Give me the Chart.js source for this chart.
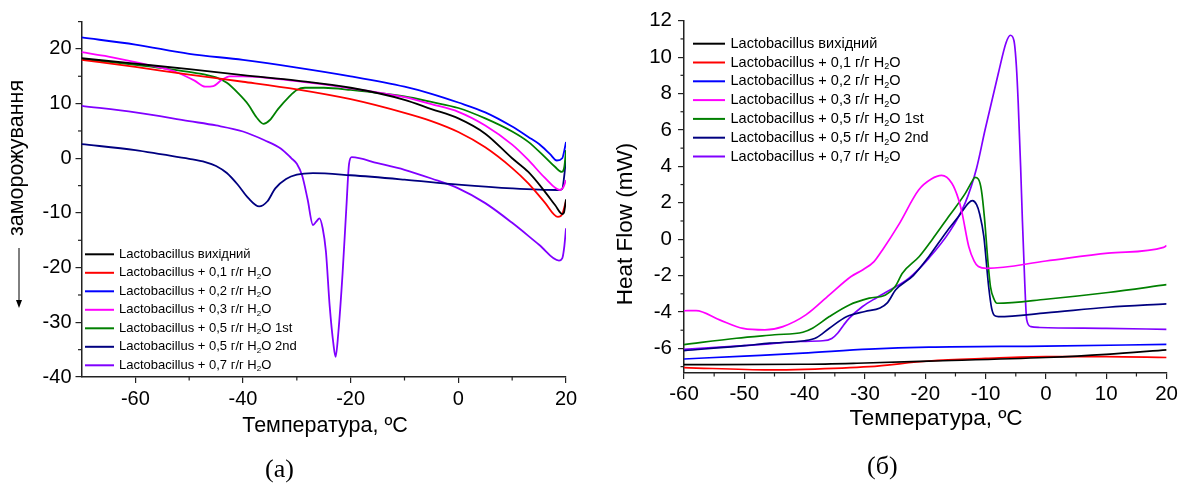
<!DOCTYPE html>
<html>
<head>
<meta charset="utf-8">
<script src="https://cdn.jsdelivr.net/npm/chart.js@4.4.0/dist/chart.umd.min.js"></script>
<style>
  html, body { margin: 0; background: #fff; }
  #wrap { position: relative; width: 1181px; height: 491px; overflow: hidden; }
  .panel { position: absolute; top: 0; }
  .cap { position: absolute; font-family: "Liberation Serif", "Times New Roman", serif; font-size: 26px; color: #000; }
</style>
</head>
<body>
<div id="wrap">
  <div class="panel" style="left:0"><canvas id="chartA" width="590" height="491"></canvas></div>
  <div class="panel" style="left:590px"><canvas id="chartB" width="591" height="491"></canvas></div>
  <div class="cap" style="left:265px;top:454px">(a)</div>
  <div class="cap" style="left:867px;top:451px">(б)</div>
</div>
<script>
// sample names and line colours (shared by both panels)
const seriesNames = [
  'Lactobacillus вихідний',
  'Lactobacillus + 0,1 г/г H₂O',
  'Lactobacillus + 0,2 г/г H₂O',
  'Lactobacillus + 0,3 г/г H₂O',
  'Lactobacillus + 0,5 г/г H₂O 1st',
  'Lactobacillus + 0,5 г/г H₂O 2nd',
  'Lactobacillus + 0,7 г/г H₂O'
];
const seriesColors = ['#000000', '#ff0000', '#0000ff', '#ff00ff', '#008000', '#000080', '#8000ff'];

// (a) cooling curves: [temperature, signal]
const coolBase = [[-70,18.3],[-60,17.3],[-50,16.3],[-40,15.2],[-30,14.2],[-20,12.9],[-10,10.7],[-5,9.0],[0,7.3],[5,4.5],[10,0.0],[13,-2.5],[16,-6.0],[18,-8.6],[19.3,-10.2],[19.6,-10.0],[20,-7.5]];
const cool01 = [[-70,18.0],[-60,16.7],[-50,15.3],[-40,14.0],[-30,12.6],[-20,10.8],[-10,8.3],[-5,6.8],[0,4.8],[5,2.0],[10,-1.8],[13,-4.6],[16,-8.0],[18.5,-10.7],[19.3,-10.2],[20,-7.8]];
const cool02 = [[-70,22.1],[-60,20.8],[-50,19.1],[-40,18.0],[-30,16.6],[-20,15.0],[-10,13.1],[-5,11.8],[0,10.2],[5,8.4],[10,5.8],[13,3.9],[15,2.6],[17,0.8],[18.3,-0.4],[19.3,0.0],[19.7,1.5],[20,3.0]];
const cool03 = [[-70,19.4],[-65,18.6],[-60,17.6],[-55,16.5],[-52,15.6],[-49,14.2],[-47,13.1],[-45.5,13.2],[-44,14.3],[-42.5,15.0],[-40,15.0],[-30,14.1],[-20,12.8],[-10,11.2],[-5,9.9],[0,8.5],[5,6.0],[10,2.5],[13,-0.3],[16,-3.5],[18.9,-5.8],[19.5,-5.3],[20,-4.0]];
const cool05a = [[-70,18.2],[-60,17.1],[-55,16.5],[-50,15.8],[-47,15.3],[-45,14.8],[-43,13.8],[-41,12.0],[-39,9.8],[-37.5,7.5],[-36.2,6.3],[-35,7.0],[-33.5,9.0],[-31.5,11.2],[-30,12.5],[-28.5,12.9],[-25,12.9],[-20,12.5],[-10,11.3],[-5,10.3],[0,9.2],[5,7.3],[10,4.9],[13,3.0],[16,0.3],[18,-1.6],[19.2,-2.5],[19.7,-1.5],[20,1.5]];
const cool05b = [[-70,2.6],[-60,1.5],[-55,0.7],[-50,-0.1],[-47,-0.7],[-45,-1.4],[-43,-2.7],[-41,-4.8],[-39,-7.3],[-37,-8.8],[-35.5,-7.9],[-34,-5.5],[-32,-3.8],[-30,-3.0],[-27,-2.7],[-20,-3.1],[-10,-3.9],[0,-4.8],[10,-5.5],[18.5,-5.8],[19.3,-5.6],[19.7,-3.0],[20,0.0]];
const cool07 = [[-70,9.6],[-60,8.4],[-50,6.8],[-45,6.0],[-40,4.9],[-36,3.3],[-33,1.8],[-31,0.0],[-30,-1.0],[-29,-3.2],[-28,-7.5],[-27,-12.2],[-26.4,-11.6],[-25.8,-11.0],[-25.2,-12.8],[-24.6,-17.0],[-23.9,-27.0],[-23.2,-34.0],[-22.8,-36.3],[-22.3,-32.0],[-21.5,-21.0],[-20.8,-9.0],[-20.3,-1.0],[-19.8,0.2],[-15,-0.9],[-10,-2.1],[-5,-3.7],[0,-5.5],[5,-8.2],[10,-11.8],[15,-15.8],[18.7,-18.7],[19.3,-18.3],[19.7,-16.0],[20,-12.8]];

// (б) DSC heat flow, mW: [temperature, heat flow]
const heatBase = [[-60,-6.89],[-40,-6.87],[-30,-6.8],[-19.4,-6.7],[0,-6.5],[10,-6.33],[20,-6.08]];
const heat01 = [[-60,-7.05],[-45.8,-7.18],[-40,-7.15],[-29.3,-7.0],[-19.4,-6.69],[-10,-6.55],[0,-6.45],[10,-6.45],[20,-6.5]];
const heat02 = [[-60,-6.58],[-50,-6.42],[-40.3,-6.26],[-29.3,-6.04],[-19.4,-5.93],[0,-5.87],[20,-5.78]];
const heat03 = [[-60,-3.93],[-58,-3.92],[-54.1,-4.43],[-50.2,-4.9],[-46.6,-4.98],[-43.6,-4.8],[-39.8,-4.16],[-35.9,-3.06],[-32.3,-2.05],[-30.4,-1.69],[-28.5,-1.23],[-27.1,-0.59],[-24.4,0.8],[-21.1,2.7],[-19,3.3],[-17.3,3.5],[-15.6,3.07],[-14.5,2.2],[-13.9,1.43],[-12.8,-0.4],[-11.9,-1.2],[-11.2,-1.5],[-9.8,-1.6],[0,-1.2],[10.3,-0.77],[19.5,-0.45],[20,-0.35]];
const heat05a = [[-60,-5.79],[-51.3,-5.44],[-45,-5.25],[-40.3,-5.11],[-38.7,-4.89],[-35.9,-4.25],[-32.6,-3.61],[-29.3,-3.24],[-26.6,-3.06],[-25,-2.6],[-23.8,-1.87],[-21,-0.95],[-18.9,-0.04],[-16,1.3],[-13.4,2.5],[-12.2,3.2],[-11.8,3.4],[-11.2,3.3],[-10.7,2.7],[-10.2,1.2],[-9.6,-1.3],[-9.2,-2.6],[-8.6,-3.3],[-8.1,-3.52],[0,-3.3],[10.3,-2.93],[20,-2.5]];
const heat05b = [[-60,-6.12],[-50,-5.85],[-45.8,-5.71],[-40,-5.58],[-38,-5.4],[-35.9,-4.89],[-33,-4.25],[-30,-3.97],[-27.5,-3.78],[-26.3,-3.5],[-24.9,-2.78],[-22,-2.0],[-19.4,-0.95],[-16.5,0.4],[-14.5,1.24],[-12.8,2.0],[-12.2,2.12],[-11.5,1.9],[-11,1.4],[-10.3,0.15],[-9.5,-2.6],[-9,-3.8],[-8.5,-4.2],[-7.9,-4.25],[0,-4.05],[10.3,-3.74],[20,-3.55]];
const heat07 = [[-60,-6.05],[-50,-5.85],[-45.8,-5.75],[-41.4,-5.62],[-37,-5.58],[-35.5,-5.45],[-34.5,-5.15],[-33.5,-4.7],[-32.6,-4.34],[-30.4,-3.7],[-28,-3.2],[-26.6,-2.93],[-22.7,-2.14],[-19.4,-1.04],[-16,0.4],[-13.4,1.98],[-11.5,3.9],[-10.1,6.0],[-7.9,9.1],[-6.6,10.8],[-5.9,11.2],[-5.3,10.9],[-4.9,9.5],[-4.6,7.5],[-4.2,4.0],[-3.9,1.0],[-3.5,-2.5],[-3.2,-4.4],[-2.5,-4.8],[-1,-4.85],[10,-4.9],[20,-4.95]];

// tick positions
const tempTicksA = [-60, -40, -20, 0, 20];
const tempMinorA = [-50, -30, -10, 10];
const valTicksA = [-40, -30, -20, -10, 0, 10, 20];
const valMinorA = [-35, -25, -15, -5, 5, 15, 25];
const tempTicksB = [-60, -50, -40, -30, -20, -10, 0, 10, 20];
const tempMinorB = [-55, -45, -35, -25, -15, -5, 5, 15];
const flowTicksB = [-6, -4, -2, 0, 2, 4, 6, 8, 10, 12];
const flowMinorB = [-7, -5, -3, -1, 1, 3, 5, 7, 9, 11];

const FONT = '"Liberation Sans", Arial, sans-serif';
const AXIS = '#222';

function toXY(pairs) { return pairs.map(([x, y]) => ({ x, y })); }

function makeDatasets(series, width) {
  return series.map((s, i) => ({
    label: seriesNames[i],
    data: toXY(s),
    borderColor: seriesColors[i],
    borderWidth: width,
    pointRadius: 0,
    fill: false,
    cubicInterpolationMode: 'monotone'
  }));
}

// short outward minor ticks
const minorTicks = {
  id: 'minorTicks',
  afterDraw(chart, args, opts) {
    const { ctx, chartArea, scales } = chart;
    ctx.save();
    ctx.strokeStyle = AXIS;
    ctx.lineWidth = 1.2;
    opts.x.forEach(v => {
      const px = scales.x.getPixelForValue(v);
      ctx.beginPath();
      ctx.moveTo(px, chartArea.bottom);
      ctx.lineTo(px, chartArea.bottom + opts.len);
      ctx.stroke();
    });
    opts.y.forEach(v => {
      const py = scales.y.getPixelForValue(v);
      ctx.beginPath();
      ctx.moveTo(chartArea.left, py);
      ctx.lineTo(chartArea.left - opts.len, py);
      ctx.stroke();
    });
    ctx.restore();
  }
};

// axis titles (and the optional direction arrow next to the y title)
const axisTitles = {
  id: 'axisTitles',
  afterDraw(chart, args, opts) {
    const ctx = chart.ctx;
    ctx.save();
    ctx.fillStyle = '#000';
    ctx.font = opts.size + 'px ' + FONT;
    ctx.textAlign = 'center';
    ctx.textBaseline = 'middle';
    ctx.fillText(opts.xText, opts.xPos[0], opts.xPos[1]);
    ctx.translate(opts.yPos[0], opts.yPos[1]);
    ctx.rotate(-Math.PI / 2);
    ctx.fillText(opts.yText, 0, 0);
    ctx.restore();
    if (opts.arrow) {
      const [ax, y1, y2] = opts.arrow;
      ctx.save();
      ctx.strokeStyle = '#000';
      ctx.fillStyle = '#000';
      ctx.lineWidth = 1;
      ctx.beginPath();
      ctx.moveTo(ax, y1);
      ctx.lineTo(ax, y2 - 6);
      ctx.stroke();
      ctx.beginPath();
      ctx.moveTo(ax - 3, y2 - 8);
      ctx.lineTo(ax + 3, y2 - 8);
      ctx.lineTo(ax, y2);
      ctx.closePath();
      ctx.fill();
      ctx.restore();
    }
  }
};

// legend drawn inside the plot, with subscript 2 in H2O
const innerLegend = {
  id: 'innerLegend',
  afterDatasetsDraw(chart, args, opts) {
    const ctx = chart.ctx;
    ctx.save();
    ctx.textBaseline = 'middle';
    chart.data.datasets.forEach((ds, i) => {
      const y = opts.y + i * opts.gap;
      ctx.strokeStyle = ds.borderColor;
      ctx.lineWidth = 2;
      ctx.beginPath();
      ctx.moveTo(opts.x, y);
      ctx.lineTo(opts.x + opts.len, y);
      ctx.stroke();
      ctx.fillStyle = '#000';
      let tx = opts.x + opts.len + opts.textGap;
      const parts = ds.label.split('₂');
      ctx.font = opts.size + 'px ' + FONT;
      ctx.fillText(parts[0], tx, y);
      tx += ctx.measureText(parts[0]).width;
      if (parts.length > 1) {
        ctx.font = Math.round(opts.size * 0.65) + 'px ' + FONT;
        ctx.fillText('2', tx, y + opts.size * 0.3);
        tx += ctx.measureText('2').width;
        ctx.font = opts.size + 'px ' + FONT;
        ctx.fillText(parts[1], tx, y);
      }
    });
    ctx.restore();
  }
};

function axisOptions(min, max, ticks, fitSize, isX, padding, fontSize) {
  return {
    type: 'linear',
    min, max,
    afterBuildTicks: s => { s.ticks = ticks.map(value => ({ value })); },
    afterFit: s => { if (isX) s.height = fitSize; else s.width = fitSize; },
    ticks: { color: '#000', font: { family: FONT, size: fontSize }, padding, maxRotation: 0, autoSkip: false },
    grid: { drawOnChartArea: false, drawTicks: true, tickLength: 6, color: AXIS, lineWidth: 1.2 },
    border: { display: true, color: AXIS, width: 1.5 }
  };
}

new Chart(document.getElementById('chartA'), {
  type: 'line',
  data: { datasets: makeDatasets([coolBase, cool01, cool02, cool03, cool05a, cool05b, cool07], 1.8) },
  options: {
    responsive: false,
    animation: false,
    events: [],
    layout: { padding: { top: 21.6, right: 24, left: 0, bottom: 0 } },
    plugins: {
      legend: { display: false },
      tooltip: { enabled: false },
      minorTicks: { x: tempMinorA, y: valMinorA, len: 3.5 },
      axisTitles: { xText: 'Температура, ºC', xPos: [325, 426], yText: 'заморожування', yPos: [17, 158], arrow: [19, 248, 308], size: 21.5 },
      innerLegend: { x: 85, y: 254.3, gap: 18.5, len: 29, textGap: 5, size: 13 }
    },
    scales: {
      x: axisOptions(-70, 20, tempTicksA, 114, true, 4, 20),
      y: axisOptions(-40, 25, valTicksA, 81.5, false, 4, 20)
    }
  },
  plugins: [minorTicks, axisTitles, innerLegend]
});

new Chart(document.getElementById('chartB'), {
  type: 'line',
  data: { datasets: makeDatasets([heatBase, heat01, heat02, heat03, heat05a, heat05b, heat07], 1.7) },
  options: {
    responsive: false,
    animation: false,
    events: [],
    layout: { padding: { top: 20.7, right: 12, left: 0, bottom: 0 } },
    plugins: {
      legend: { display: false },
      tooltip: { enabled: false },
      minorTicks: { x: tempMinorB, y: flowMinorB, len: 3.5 },
      axisTitles: { xText: 'Температура, ºC', xPos: [346, 419], yText: 'Heat Flow (mW)', yPos: [36, 224], size: 22.5 },
      innerLegend: { x: 103, y: 43.7, gap: 18.8, len: 32, textGap: 5.5, size: 14.5 }
    },
    scales: {
      x: axisOptions(-60, 20, tempTicksB, 118, true, 3, 20.5),
      y: axisOptions(-7.35, 12, flowTicksB, 94, false, 6, 20.5)
    }
  },
  plugins: [minorTicks, axisTitles, innerLegend]
});
</script>
</body>
</html>
